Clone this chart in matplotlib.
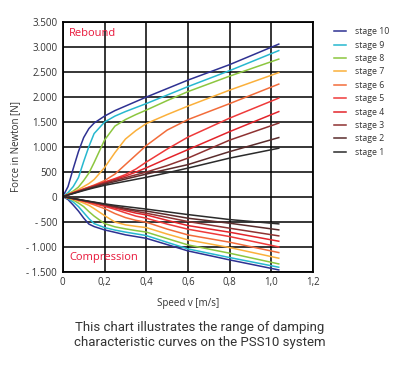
import matplotlib
matplotlib.use("Agg")
import matplotlib.pyplot as plt

speed = [0, 0.025, 0.05, 0.075, 0.1, 0.125, 0.15, 0.2, 0.25, 0.3, 0.35, 0.4, 0.5, 0.6, 0.8, 1.035]

# rebound force [N], stage 1 .. stage 10
rebound = {
    "stage 1":  [0, 30, 60, 90, 120, 148, 175, 225, 265, 305, 345, 385, 475, 570, 770, 967],
    "stage 2":  [0, 33, 65, 98, 130, 160, 190, 250, 300, 350, 400, 450, 545, 640, 900, 1180],
    "stage 3":  [0, 35, 70, 105, 140, 172, 205, 270, 325, 380, 435, 490, 620, 770, 1130, 1470],
    "stage 4":  [0, 36, 72, 108, 145, 180, 215, 285, 345, 410, 490, 575, 760, 940, 1300, 1700],
    "stage 5":  [0, 38, 75, 112, 150, 185, 220, 290, 360, 440, 550, 690, 950, 1190, 1570, 1970],
    "stage 6":  [0, 40, 80, 118, 155, 192, 230, 320, 450, 640, 830, 1020, 1330, 1540, 1860, 2250],
    "stage 7":  [0, 40, 90, 140, 200, 260, 340, 580, 880, 1150, 1320, 1460, 1640, 1810, 2130, 2480],
    "stage 8":  [0, 50, 110, 190, 320, 470, 680, 1130, 1410, 1540, 1640, 1730, 1920, 2100, 2410, 2750],
    "stage 9":  [0, 80, 200, 380, 700, 1000, 1260, 1490, 1610, 1700, 1780, 1860, 2030, 2200, 2520, 2920],
    "stage 10": [0, 200, 560, 900, 1180, 1360, 1470, 1610, 1720, 1810, 1900, 1990, 2160, 2330, 2640, 3050],
}

# compression force [N]
compression = {
    "stage 1":  [0, -18, -37, -56, -75, -93, -110, -145, -175, -200, -225, -250, -305, -360, -460, -546],
    "stage 2":  [0, -19, -38, -58, -78, -97, -115, -155, -195, -235, -270, -290, -360, -433, -533, -666],
    "stage 3":  [0, -20, -40, -60, -80, -100, -120, -165, -210, -255, -295, -333, -415, -500, -633, -786],
    "stage 4":  [0, -20, -42, -62, -85, -105, -128, -178, -228, -280, -330, -367, -475, -580, -713, -893],
    "stage 5":  [0, -20, -43, -65, -90, -115, -140, -195, -255, -325, -390, -433, -550, -653, -800, -1007],
    "stage 6":  [0, -20, -45, -70, -100, -130, -165, -240, -340, -420, -475, -513, -650, -767, -913, -1120],
    "stage 7":  [0, -25, -55, -90, -130, -175, -240, -380, -510, -565, -595, -620, -750, -867, -1020, -1233],
    "stage 8":  [0, -30, -70, -130, -200, -300, -390, -540, -605, -645, -680, -710, -840, -967, -1133, -1347],
    "stage 9":  [0, -40, -110, -200, -320, -440, -540, -620, -670, -710, -745, -780, -915, -1047, -1220, -1413],
    "stage 10": [0, -60, -170, -290, -430, -550, -600, -667, -715, -765, -800, -835, -960, -1087, -1267, -1467],
}

stage_colors = {
    "stage 10": "#2e3192",
    "stage 9": "#27b8cf",
    "stage 8": "#8cc63f",
    "stage 7": "#fbb03b",
    "stage 6": "#f26c3a",
    "stage 5": "#ef3a3a",
    "stage 4": "#e3242b",
    "stage 3": "#8e3232",
    "stage 2": "#5a2c2c",
    "stage 1": "#2b2b2b",
}

x_ticks = [0, 0.2, 0.4, 0.6, 0.8, 1.0, 1.2]
x_tick_labels = ["0", "0,2", "0,4", "0,6", "0,8", "1,0", "1,2"]
y_ticks = [-1500, -1000, -500, 0, 500, 1000, 1500, 2000, 2500, 3000, 3500]
y_tick_labels = ["- 1.500", "- 1.000", "- 500", "0", "500", "1.000", "1.500",
                 "2.000", "2.500", "3.000", "3.500"]

plt.rcParams["font.family"] = ["Open Sans", "DejaVu Sans"]

fig = plt.figure(figsize=(4.0, 3.66), dpi=100)
ax = fig.add_axes([0.157, 0.258, 0.626, 0.683])

order = ["stage 10", "stage 9", "stage 8", "stage 7", "stage 6",
         "stage 5", "stage 4", "stage 3", "stage 2", "stage 1"]
for name in order:
    ax.plot(speed, rebound[name], color=stage_colors[name], lw=1.1, label=name)
    ax.plot(speed, compression[name], color=stage_colors[name], lw=1.1)

ax.set_xlim(0, 1.2)
ax.set_ylim(-1500, 3500)
ax.set_xticks(x_ticks)
ax.set_xticklabels(x_tick_labels)
ax.set_yticks(y_ticks)
ax.set_yticklabels(y_tick_labels)
ax.tick_params(length=0, labelsize=7, colors="#333333", pad=4)
ax.grid(True, color="black", lw=1.1)
ax.set_axisbelow(True)
for s in ax.spines.values():
    s.set_linewidth(1.3)

ax.set_xlabel("Speed v [m/s]", fontsize=7, color="#333333", labelpad=7)
ax.set_ylabel("Force in Newton [N]", fontsize=7, color="#333333", labelpad=4)

ax.text(0.025, 0.975, "Rebound", transform=ax.transAxes, color="#e8173a",
        fontsize=8, va="top", ha="left")
ax.text(0.025, 0.035, "Compression", transform=ax.transAxes, color="#e8173a",
        fontsize=8, va="bottom", ha="left")

leg = ax.legend(loc="upper left", bbox_to_anchor=(1.055, 1.005), frameon=False,
                fontsize=6.3, handlelength=1.4, handletextpad=1.0,
                labelspacing=0.5, borderaxespad=0.4)
for t in leg.get_texts():
    t.set_color("#333333")

fig.text(0.5, 0.085, "This chart illustrates the range of damping\ncharacteristic curves on the PSS10 system",
         ha="center", va="center", fontsize=9.5, color="#333333",
         family=["Liberation Sans Narrow", "DejaVu Sans Condensed", "Roboto", "DejaVu Sans"],
         linespacing=1.2)

fig.savefig("out.png", dpi=100)
